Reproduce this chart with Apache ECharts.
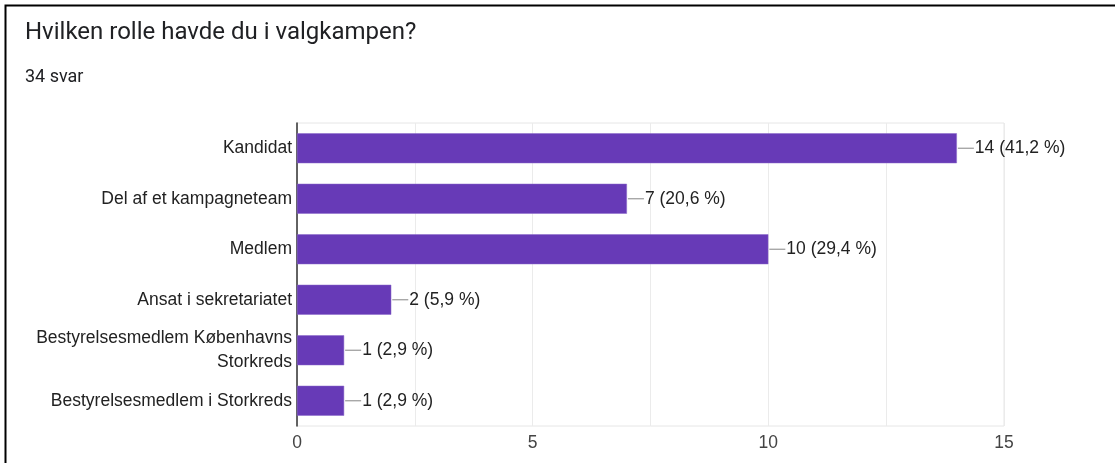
<!DOCTYPE html>
<html>
<head>
<meta charset="utf-8">
<script src="https://cdn.jsdelivr.net/npm/echarts@6/dist/echarts.min.js"></script>
<style>
  html, body { margin: 0; padding: 0; background: #fff; }
  #chart { width: 1115px; height: 463px; }
</style>
</head>
<body>
<div id="chart"></div>
<script>
// Survey question and answer options
const title = 'Hvilken rolle havde du i valgkampen?';
const subtitle = '34 svar';
const categories = [
  'Kandidat',
  'Del af et kampagneteam',
  'Medlem',
  'Ansat i sekretariatet',
  'Bestyrelsesmedlem Københavns\nStorkreds',
  'Bestyrelsesmedlem i Storkreds'
];
const counts = [14, 7, 10, 2, 1, 1];
const percents = ['41,2', '20,6', '29,4', '5,9', '2,9', '2,9'];
const tickLabels = [0, 5, 10, 15];

const SANS = '"Liberation Sans", Arial, sans-serif';
const HEAD = 'Roboto, "Liberation Sans", sans-serif';

const chart = echarts.init(document.getElementById('chart'), null, { renderer: 'canvas' });

chart.setOption({
  animation: false,
  backgroundColor: '#fff',
  title: [
    {
      text: title,
      left: 20, top: 16,
      textStyle: { fontFamily: HEAD, fontSize: 24, fontWeight: 'normal', color: '#202124' }
    },
    {
      text: subtitle,
      left: 20, top: 63,
      textStyle: { fontFamily: HEAD, fontSize: 18, fontWeight: 'normal', color: '#202124' }
    }
  ],
  graphic: [
    {
      type: 'rect',
      shape: { x: 5.5, y: 5.5, width: 1200, height: 600 },
      style: { fill: 'none', stroke: '#000', lineWidth: 2 },
      silent: true
    }
  ],
  grid: {
    left: 297, right: 111, top: 123, bottom: 37,
    show: true, borderColor: '#e6e6e6', borderWidth: 1
  },
  xAxis: {
    type: 'value',
    min: 0, max: 15, interval: 2.5,
    axisLine: { show: false },
    axisTick: { show: false },
    splitLine: { lineStyle: { color: '#ebebeb', width: 1 } },
    axisLabel: {
      fontFamily: SANS, fontSize: 17.5, color: '#444', margin: 8,
      formatter: v => (tickLabels.indexOf(v) >= 0 ? String(v) : '')
    }
  },
  yAxis: {
    type: 'category',
    inverse: true,
    data: categories,
    axisLine: { lineStyle: { color: '#333', width: 1.5 } },
    axisTick: { show: false },
    axisLabel: { fontFamily: SANS, fontSize: 17.5, color: '#222', margin: 5, lineHeight: 24, align: 'right' }
  },
  series: [{
    type: 'bar',
    data: counts,
    barWidth: 30,
    itemStyle: { color: '#673ab7', borderColor: '#8a68c8', borderWidth: 0.5 },
    label: {
      show: true,
      position: 'right',
      distance: 1,
      formatter: p => '{ln|}{t|' + p.value + ' (' + percents[p.dataIndex] + ' %)}',
      rich: {
        ln: { width: 16, height: 1.2, backgroundColor: '#999' },
        t: { fontFamily: SANS, fontSize: 17.5, color: '#222', padding: [0, 0, 0, 1] }
      }
    }
  }]
});
</script>
</body>
</html>
